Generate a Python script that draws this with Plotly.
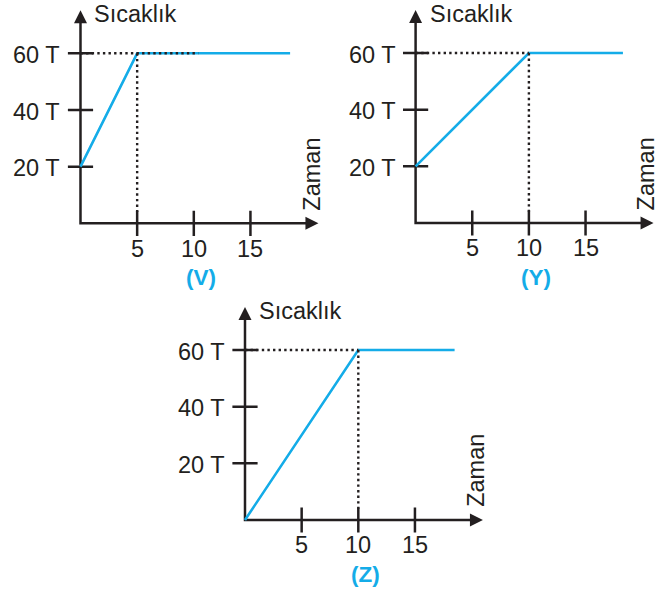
import plotly.graph_objects as go

# ---------------- data ----------------
panel_names = ["(V)", "(Y)", "(Z)"]
start_temps = [20, 20, 0]          # temperature at time 0
reach_times = [5, 10, 10]          # time at which 60 T is reached
plateau_temps = [60, 60, 60]
end_times = [18.5, 18.3, 18.5]     # end of the plateau line
guide_ends = [10.4, 10, 10]        # end of the dotted horizontal guide
guide_bottom = 4                   # lower end of dotted vertical guide
time_ticks = [5, 10, 15]
time_tick_labels = ["5", "10", "15"]
temp_ticks = [20, 40, 60]
temp_tick_labels = ["20 T", "40 T", "60 T"]
x_axis_max = 21
y_axis_max = 75.2
y_title = "Sıcaklık"
x_title = "Zaman"

# ---------------- layout geometry ----------------
W, H = 672, 592
origins = [(80.5, 223.3), (415.6, 223.0), (245.0, 520.0)]  # px of (0,0)
SX, SY = 11.33, 2.833                                        # px per unit
XR = [-2.5, 22.5]
YR = [-6, 78]

BLUE = "#14ace8"
INK = "#231f20"
FONT = "Liberation Sans, Arial, sans-serif"
FS = 23.5
LW = 2.5
DOT = dict(color=INK, width=2.4, dash="2.4px,3.2px")

fig = go.Figure()
layout_axes = {}
annotations = []

for i in range(3):
    ox, oy = origins[i]
    xa = "x" if i == 0 else f"x{i+1}"
    ya = "y" if i == 0 else f"y{i+1}"
    xkey = "xaxis" if i == 0 else f"xaxis{i+1}"
    ykey = "yaxis" if i == 0 else f"yaxis{i+1}"
    xd = [max(0, (ox + XR[0] * SX) / W), min(1, (ox + XR[1] * SX) / W)]
    yd = [max(0, 1 - (oy - YR[0] * SY) / H), min(1, 1 - (oy - YR[1] * SY) / H)]
    # recompute ranges so that clamped domains keep the same scale
    xr = [((xd[0] * W) - ox) / SX, ((xd[1] * W) - ox) / SX]
    yr = [(oy - (1 - yd[0]) * H) / SY, (oy - (1 - yd[1]) * H) / SY]
    layout_axes[xkey] = dict(domain=xd, range=xr, visible=False, fixedrange=True, anchor=ya)
    layout_axes[ykey] = dict(domain=yd, range=yr, visible=False, fixedrange=True, anchor=xa)

    # axes (lines)
    fig.add_trace(go.Scatter(
        x=[0, 0, x_axis_max - 0.6], y=[y_axis_max - 3, 0, 0], mode="lines",
        line=dict(color=INK, width=LW), xaxis=xa, yaxis=ya, hoverinfo="skip"))
    # arrow heads
    fig.add_trace(go.Scatter(
        x=[0], y=[y_axis_max], mode="markers",
        marker=dict(symbol="arrow-up", size=13, color=INK, line=dict(width=0)),
        xaxis=xa, yaxis=ya, hoverinfo="skip", cliponaxis=False))
    fig.add_trace(go.Scatter(
        x=[x_axis_max], y=[0], mode="markers",
        marker=dict(symbol="arrow-right", size=13, color=INK, line=dict(width=0)),
        xaxis=xa, yaxis=ya, hoverinfo="skip", cliponaxis=False))
    # tick marks crossing the axes
    fig.add_trace(go.Scatter(
        x=time_ticks, y=[0] * len(time_ticks), mode="markers",
        marker=dict(symbol="line-ns", size=18, line=dict(color=INK, width=LW)),
        xaxis=xa, yaxis=ya, hoverinfo="skip"))
    fig.add_trace(go.Scatter(
        x=[0] * len(temp_ticks), y=temp_ticks, mode="markers",
        marker=dict(symbol="line-ew", size=18, line=dict(color=INK, width=LW)),
        xaxis=xa, yaxis=ya, hoverinfo="skip"))
    # heating curve
    fig.add_trace(go.Scatter(
        x=[0, reach_times[i], end_times[i]],
        y=[start_temps[i], plateau_temps[i], plateau_temps[i]],
        mode="lines", line=dict(color=BLUE, width=2.6),
        xaxis=xa, yaxis=ya, hoverinfo="skip"))
    # dotted guides
    fig.add_trace(go.Scatter(
        x=[0, guide_ends[i]], y=[plateau_temps[i], plateau_temps[i]],
        mode="lines", line=DOT, xaxis=xa, yaxis=ya, hoverinfo="skip"))
    fig.add_trace(go.Scatter(
        x=[reach_times[i], reach_times[i]], y=[plateau_temps[i], guide_bottom],
        mode="lines", line=DOT, xaxis=xa, yaxis=ya, hoverinfo="skip"))

    tf = dict(family=FONT, size=FS, color=INK)
    for v, lab in zip(temp_ticks, temp_tick_labels):
        annotations.append(dict(x=0, y=v, xref=xa, yref=ya, text=lab, showarrow=False,
                                xanchor="right", yanchor="middle", xshift=-18, yshift=-1.6, font=tf))
    for t, lab in zip(time_ticks, time_tick_labels):
        annotations.append(dict(x=t, y=0, xref=xa, yref=ya, text=lab, showarrow=False,
                                xanchor="center", yanchor="middle", yshift=-25.4, font=tf))
    annotations.append(dict(x=0, y=y_axis_max, xref=xa, yref=ya, text=y_title, showarrow=False,
                            xanchor="left", yanchor="middle", xshift=12, yshift=-3.6, font=tf))
    annotations.append(dict(x=x_axis_max, y=0, xref=xa, yref=ya, text=x_title, showarrow=False,
                            textangle=-90, xanchor="center", yanchor="middle",
                            xshift=-6.6, yshift=49.5, font=tf))
    annotations.append(dict(x=10.6, y=0, xref=xa, yref=ya, text=f"<b>{panel_names[i]}</b>",
                            showarrow=False, xanchor="center", yanchor="middle", yshift=-54.5,
                            font=dict(family=FONT, size=22.5, color=BLUE)))

fig.update_layout(
    width=W, height=H,
    margin=dict(l=0, r=0, t=0, b=0),
    paper_bgcolor="white", plot_bgcolor="white",
    showlegend=False,
    annotations=annotations,
    **layout_axes,
)

# remove the page's default 8px body margin so the figure fills the window exactly
fig.write_html("out.html", config={"displayModeBar": False},
               post_script="document.body.style.margin='0';")
